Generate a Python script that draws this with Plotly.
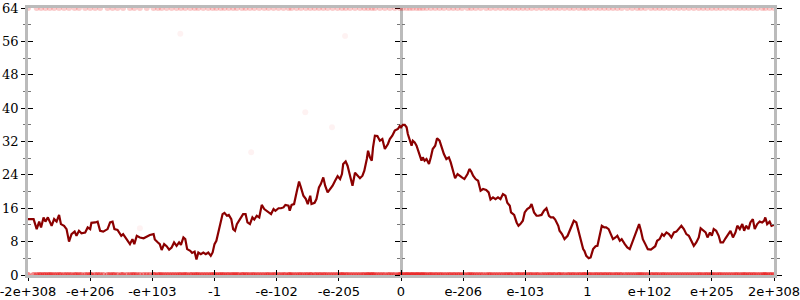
import plotly.graph_objects as go

tick_positions = [-6, -5, -4, -3, -2, -1, 0, 1, 2, 3, 4, 5, 6]
tick_labels = ["-2e+308", "-e+206", "-e+103", "-1", "-e-102", "-e-205", "0",
               "e-206", "e-103", "1", "e+102", "e+205", "2e+308"]
y_ticks = [0, 8, 16, 24, 32, 40, 48, 56, 64]

line_x = [
    -6.00, -5.91, -5.86, -5.82, -5.79, -5.75, -5.72, -5.68, -5.65, -5.62, -5.58, -5.54, -5.50, -5.47,
    -5.42, -5.38, -5.34, -5.30, -5.25, -5.22, -5.18, -5.14, -5.08, -5.04, -5.00, -4.98, -4.92, -4.88,
    -4.84, -4.79, -4.72, -4.68, -4.64, -4.61, -4.56, -4.50, -4.47, -4.41, -4.36, -4.32, -4.29, -4.25,
    -4.20, -4.14, -4.09, -4.04, -3.98, -3.96, -3.91, -3.88, -3.85, -3.81, -3.77, -3.73, -3.69, -3.65,
    -3.61, -3.57, -3.54, -3.50, -3.47, -3.44, -3.39, -3.36, -3.32, -3.29, -3.26, -3.22, -3.18, -3.14,
    -3.10, -3.06, -3.03, -3.00, -2.97, -2.93, -2.90, -2.87, -2.84, -2.80, -2.77, -2.73, -2.70, -2.67,
    -2.64, -2.61, -2.56, -2.54, -2.50, -2.47, -2.43, -2.39, -2.36, -2.32, -2.28, -2.24, -2.20, -2.16,
    -2.13, -2.09, -2.05, -2.02, -1.97, -1.93, -1.89, -1.86, -1.81, -1.79, -1.76, -1.72, -1.68, -1.64,
    -1.61, -1.57, -1.53, -1.50, -1.46, -1.44, -1.39, -1.36, -1.32, -1.29, -1.25, -1.22, -1.18, -1.14,
    -1.10, -1.06, -1.02, -0.98, -0.95, -0.93, -0.89, -0.86, -0.82, -0.78, -0.74, -0.70, -0.66, -0.62,
    -0.59, -0.55, -0.53, -0.50, -0.47, -0.45, -0.42, -0.38, -0.34, -0.30, -0.26, -0.21, -0.18, -0.14,
    -0.10, -0.05, -0.02,
    0.00, 0.03, 0.06, 0.09, 0.11, 0.14, 0.17, 0.19, 0.22, 0.25, 0.27, 0.30, 0.33, 0.35, 0.38, 0.41,
    0.45, 0.48, 0.51, 0.55, 0.58, 0.62, 0.65, 0.69, 0.73, 0.77, 0.80, 0.84, 0.87, 0.91, 0.94, 0.98,
    1.02, 1.07, 1.10, 1.13, 1.16, 1.20, 1.24, 1.28, 1.32, 1.37, 1.41, 1.44, 1.48, 1.52, 1.56, 1.60,
    1.64, 1.68, 1.71, 1.75, 1.77, 1.82, 1.86, 1.89, 1.92, 1.96, 1.99, 2.03, 2.07, 2.10, 2.14, 2.18,
    2.21, 2.26, 2.30, 2.34, 2.38, 2.41, 2.45, 2.48, 2.53, 2.55, 2.59, 2.63, 2.68, 2.71, 2.75, 2.78,
    2.82, 2.86, 2.89, 2.93, 2.95, 2.98, 3.02, 3.05, 3.09, 3.13, 3.16, 3.20, 3.23, 3.27, 3.30, 3.34,
    3.37, 3.41, 3.45, 3.48, 3.52, 3.55, 3.60, 3.64, 3.68, 3.72, 3.76, 3.80, 3.83, 3.86, 3.89, 3.93,
    3.97, 4.02, 4.05, 4.09, 4.12, 4.16, 4.20, 4.23, 4.27, 4.31, 4.35, 4.39, 4.43, 4.47, 4.51, 4.55,
    4.59, 4.63, 4.67, 4.71, 4.75, 4.79, 4.82, 4.86, 4.90, 4.93, 4.97, 5.00, 5.03, 5.07, 5.11, 5.14,
    5.18, 5.22, 5.26, 5.30, 5.34, 5.38, 5.41, 5.45, 5.49, 5.52, 5.55, 5.59, 5.62, 5.66, 5.69, 5.73,
    5.77, 5.81, 5.84, 5.86, 5.89, 5.93, 5.96, 6.00,
]
line_y = [
    13.4, 13.4, 11.0, 12.8, 11.4, 13.8, 12.8, 13.8, 12.8, 11.8, 13.4, 12.8, 14.4, 12.2,
    11.8, 11.0, 8.0, 9.8, 10.4, 9.4, 10.6, 10.0, 10.2, 11.4, 11.0, 12.5, 12.6, 12.8,
    10.6, 10.4, 11.0, 12.6, 12.8, 11.0, 10.8, 9.4, 9.8, 8.6, 7.4, 8.6, 7.4, 9.4,
    9.0, 8.8, 9.3, 9.6, 9.8, 8.5, 7.8, 7.4, 6.0, 7.4, 6.9, 6.1, 6.6, 7.8,
    7.0, 7.8, 7.2, 9.0, 8.6, 6.2, 5.8, 5.3, 5.6, 3.7, 5.4, 5.0, 5.4, 5.0,
    5.4, 4.6, 5.4, 7.4, 8.2, 10.6, 12.6, 14.6, 14.9, 14.2, 14.4, 13.4, 11.0, 10.6,
    12.2, 13.0, 14.2, 14.6, 14.6, 12.6, 12.2, 13.8, 13.3, 14.2, 13.8, 16.8, 15.8, 15.4,
    14.9, 14.6, 15.8, 15.4, 16.0, 16.0, 16.2, 16.8, 16.6, 15.4, 16.8, 17.0, 19.8, 22.4,
    21.0, 19.0, 18.2, 17.0, 19.0, 17.0, 17.3, 18.2, 21.0, 21.8, 23.4, 21.4, 19.8, 20.6,
    21.4, 22.6, 23.7, 23.0, 24.2, 26.6, 27.2, 26.2, 23.8, 21.4, 24.5, 23.8, 23.2, 23.8,
    25.0, 27.8, 29.8, 28.2, 27.4, 30.6, 33.4, 33.3, 32.2, 32.6, 30.2, 31.4, 32.6, 33.4,
    34.6, 35.0, 35.7,
    35.4, 36.0, 36.0, 35.4, 33.8, 32.6, 31.0, 32.2, 31.8, 31.0, 30.2, 28.6, 27.4, 28.2, 27.4, 27.8,
    26.6, 28.2, 30.2, 31.0, 32.8, 32.2, 30.6, 29.0, 27.8, 28.2, 27.0, 24.6, 23.2, 24.2, 23.8, 23.4,
    23.0, 24.2, 25.4, 24.8, 23.8, 23.0, 22.6, 20.2, 20.6, 20.4, 19.8, 18.1, 18.6, 18.2, 18.6, 18.2,
    19.4, 19.0, 17.3, 16.6, 15.0, 14.4, 12.6, 11.8, 12.2, 13.0, 15.0, 15.8, 16.2, 17.0, 15.0, 14.2,
    14.2, 14.4, 15.4, 16.0, 14.2, 13.8, 13.8, 13.3, 11.8, 10.6, 9.8, 8.6, 9.4, 10.6, 12.2, 13.0,
    12.6, 10.2, 8.2, 6.2, 5.8, 4.6, 4.0, 4.2, 6.2, 6.9, 7.0, 9.8, 11.8, 11.4, 11.4, 11.0,
    9.8, 8.6, 9.0, 9.4, 8.2, 8.6, 7.4, 6.6, 6.2, 7.8, 9.0, 10.6, 12.2, 10.6, 8.6, 7.4,
    6.2, 6.1, 6.4, 6.9, 8.2, 8.6, 9.8, 9.4, 10.2, 9.8, 9.0, 10.2, 10.4, 11.0, 11.8, 11.0,
    9.8, 9.4, 8.2, 7.0, 7.8, 9.0, 11.2, 10.6, 10.2, 9.0, 10.2, 9.4, 11.0, 10.6, 9.4, 7.8,
    7.8, 8.8, 9.8, 10.6, 9.0, 10.2, 11.8, 11.0, 12.2, 10.6, 11.8, 11.0, 12.6, 13.4, 11.0, 12.2,
    12.8, 12.6, 13.0, 13.8, 12.2, 12.8, 11.8, 12.0,
]

# individual samples: almost all sit at 0 or 64, a few stragglers in between
sample_floor = 0
sample_ceiling = 64
stray_x = [-4.20, -3.55, -2.41, -1.54, -1.11, -0.90]
stray_y = [11.2, 57.8, 29.4, 39.0, 35.4, 57.3]

fig = go.Figure()

fig.add_trace(go.Scatter(
    x=line_x, y=[sample_floor] * len(line_x), mode="markers",
    marker=dict(size=6, color="rgba(232,20,20,0.5)", line=dict(width=0)),
    hoverinfo="skip", showlegend=False))
fig.add_trace(go.Scatter(
    x=line_x[::2], y=[sample_ceiling] * len(line_x[::2]), mode="markers",
    marker=dict(size=6, color="rgba(232,0,0,0.2)", line=dict(width=0)),
    hoverinfo="skip", showlegend=False))
fig.add_trace(go.Scatter(
    x=stray_x, y=stray_y, mode="markers",
    marker=dict(size=6, color="rgba(232,0,0,0.05)", line=dict(width=0)),
    hoverinfo="skip", showlegend=False))
fig.add_trace(go.Scatter(
    x=line_x, y=line_y, mode="lines",
    line=dict(color="#8b0000", width=2.2),
    showlegend=False))

# placeholder traces so that every extra axis (tick sets) is drawn
for xa, ya in [("x2", "y"), ("x", "y2"), ("x", "y3"), ("x", "y4"), ("x", "y5"), ("x", "y6")]:
    fig.add_trace(go.Scatter(x=[0], y=[0], xaxis=xa, yaxis=ya, mode="lines",
                             hoverinfo="skip", showlegend=False))

axis_gray = "#bbbbbb"
minor_gray = "#777777"

common_y = dict(range=[0, 64], tickmode="array", tickvals=y_ticks, showgrid=False,
                zeroline=False, fixedrange=True, automargin=False,
                tickcolor="black", tickwidth=1)

def minor(kind, ln):
    return dict(tickmode="linear", tick0=0, dtick=4, ticks=kind, ticklen=ln,
                tickcolor=minor_gray, tickwidth=1, showgrid=False)

fig.update_layout(
    width=800, height=300, template="none",
    margin=dict(l=28, r=26, t=8, b=25, pad=0),
    paper_bgcolor="white", plot_bgcolor="white",
    showlegend=False,
    xaxis=dict(range=[-6, 6], tickmode="array", tickvals=tick_positions, ticktext=tick_labels,
               ticks="outside", ticklen=3, tickcolor="black", tickwidth=1,
               showline=True, linecolor=axis_gray, linewidth=2.5, mirror=True,
               showgrid=False, zeroline=False, automargin=False, layer="below traces",
               ticklabeloverflow="allow",
               tickfont=dict(family="DejaVu Sans", size=13, color="black")),
    xaxis2=dict(range=[-6, 6], overlaying="x", anchor="y", side="bottom",
                tickmode="array", tickvals=tick_positions, showticklabels=False,
                ticks="inside", ticklen=5, tickcolor="black", tickwidth=1,
                showline=False, showgrid=False, zeroline=False, automargin=False,
                layer="above traces"),
    yaxis=dict(**common_y, side="left", ticks="outside", ticklen=4, layer="below traces",
               showline=True, linecolor=axis_gray, linewidth=2.5,
               minor=minor("outside", 2),
               tickfont=dict(family="DejaVu Serif", size=13, color="black")),
    yaxis2=dict(**common_y, overlaying="y", anchor="x", side="left", ticks="inside", ticklen=5,
                layer="above traces",
                showticklabels=False, showline=False, minor=minor("inside", 3)),
    yaxis3=dict(**common_y, overlaying="y", anchor="free", position=0.5, side="left",
                layer="below traces",
                ticks="outside", ticklen=5, showticklabels=False,
                showline=True, linecolor=axis_gray, linewidth=2.5, minor=minor("outside", 3)),
    yaxis4=dict(**common_y, overlaying="y", anchor="free", position=0.5, side="left",
                layer="below traces",
                ticks="inside", ticklen=5, showticklabels=False, showline=False,
                minor=minor("inside", 3)),
    yaxis5=dict(**common_y, overlaying="y", anchor="x", side="right", layer="below traces",
                ticks="outside", ticklen=5, showticklabels=False,
                showline=True, linecolor=axis_gray, linewidth=2.5, minor=minor("outside", 3)),
    yaxis6=dict(**common_y, overlaying="y", anchor="x", side="right", layer="above traces",
                ticks="inside", ticklen=5, showticklabels=False, showline=False,
                minor=minor("inside", 3)),
)

fig.write_html("out.html")
